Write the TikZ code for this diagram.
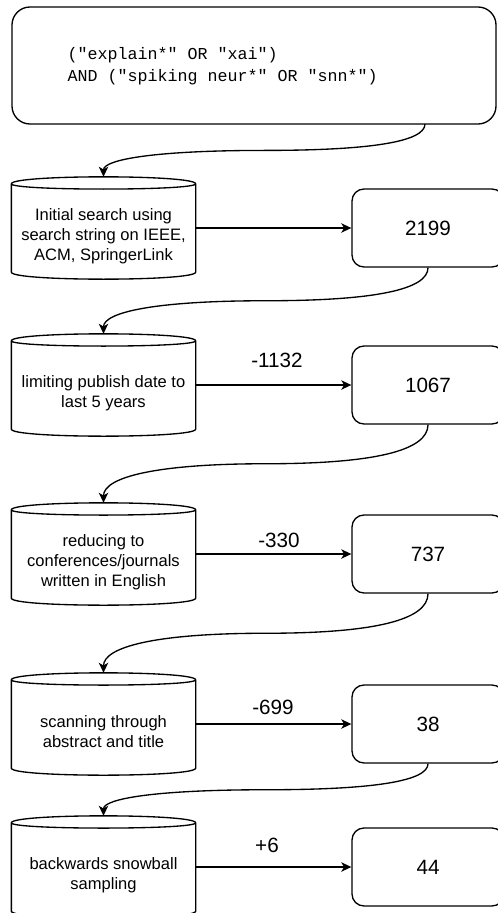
\documentclass[tikz,border=0pt]{standalone}
\usepackage{fontspec}
\setmainfont{Liberation Sans}
\setmonofont{Liberation Mono}
\usetikzlibrary{calc,arrows.meta}
\newcommand\drawcyl[1]{%
  \draw let \p1=(#1.north west), \p2=(#1.south east) in
    (\x1,\y1-5.25pt) .. controls (\x1,\y1+1.75pt) and (\x2,\y1+1.75pt) .. (\x2,\y1-5.25pt)
    -- (\x2,\y2+5.25pt) .. controls (\x2,\y2-1.75pt) and (\x1,\y2-1.75pt) .. (\x1,\y2+5.25pt) -- cycle
    (\x1,\y1-5.25pt) .. controls (\x1,\y1-10.5pt) and (\x2,\y1-10.5pt) .. (\x2,\y1-5.25pt);
}
\begin{document}
\begin{tikzpicture}[x=0.75pt,y=-0.75pt, line width=1pt,
  cylframe/.style={rectangle, inner sep=0pt, minimum width=137.25pt, minimum height=75.75pt},
  cyltext/.style={align=center, font=\fontsize{12.4}{15}\selectfont, inner sep=0pt},
  numbox/.style={draw, rounded corners=9pt, minimum width=114pt, minimum height=58.5pt, inner sep=0pt, font=\fontsize{15.5}{18}\selectfont},
  lbl/.style={font=\fontsize{15.5}{18}\selectfont, inner sep=0pt},
  flow/.style={-{Stealth[length=7.5pt,width=7pt,inset=2pt]}},
  curvy/.style={to path={let \p1=(\tikztostart), \p2=(\tikztotarget), \p3=($(\p1)!.5!(\p2)$) in
     .. controls ($(\x1,\y1)!2/3!(\x1,\y3)$) and ($(\x3,\y3)!2/3!(\x1,\y3)$) .. (\x3,\y3)
     .. controls ($(\x3,\y3)!2/3!(\x2,\y3)$) and ($(\x2,\y2)!2/3!(\x2,\y3)$) .. (\tikztotarget)}}]
\useasboundingbox (0,0) rectangle (497,913);

% query box
\node[draw, rounded corners=13.5pt, minimum width=363pt, minimum height=87.75pt, inner sep=0pt] (b0) at (254,65.5) {};
\node[anchor=west, align=left, inner sep=0pt, font=\ttfamily\fontsize{12.5}{16.5}\selectfont] (q) at (67,66)
  {("explain*" OR "xai")\\AND ("spiking neur*" OR "snn*")};
\coordinate (s0) at (425,124);

% cylinders
\node[cylframe] (c1) at (103.5,228) {};
\node[cylframe] (c2) at (103.5,385) {};
\node[cylframe] (c3) at (103.5,554) {};
\node[cylframe] (c4) at (103.5,724) {};
\node[cylframe] (c5) at (103.5,867) {};
\drawcyl{c1}\drawcyl{c2}\drawcyl{c3}\drawcyl{c4}\drawcyl{c5}
\node[cyltext] (t1) at ([yshift=-6pt]c1.center) {Initial search using\\search string on IEEE,\\ACM, SpringerLink};
\node[cyltext] (t2) at ([yshift=-6pt]c2.center) {limiting publish date to\\last 5 years};
\node[cyltext] (t3) at ([yshift=-6pt]c3.center) {reducing to\\conferences/journals\\written in English};
\node[cyltext] (t4) at ([yshift=-6pt]c4.center) {scanning through\\abstract and title};
\node[cyltext] (t5) at ([yshift=-6pt]c5.center) {backwards snowball\\sampling};

% number boxes
\node[numbox] (b1) at (428,228) {2199};
\node[numbox] (b2) at (428,385) {1067};
\node[numbox] (b3) at (428,554) {737};
\node[numbox] (b4) at (428,724) {38};
\node[numbox] (b5) at (428,867) {44};

% horizontal arrows
\draw[flow] (c1.east) -- (b1.west);
\draw[flow] (c2.east) -- (b2.west);
\draw[flow] (c3.east) -- (b3.west);
\draw[flow] (c4.east) -- (b4.west);
\draw[flow] (c5.east) -- (b5.west);

% labels
\node[lbl] (l2) at (277,360) {-1132};
\node[lbl] (l3) at (279,540) {-330};
\node[lbl] (l4) at (273,707) {-699};
\node[lbl] (l5) at (267,845) {+6};

% curved connectors
\draw[flow] (s0) to[curvy] (c1.north);
\draw[flow] (b1.south) to[curvy] (c2.north);
\draw[flow] (b2.south) to[curvy] (c3.north);
\draw[flow] (b3.south) to[curvy] (c4.north);
\draw[flow] (b4.south) to[curvy] (c5.north);
\end{tikzpicture}
\end{document}
